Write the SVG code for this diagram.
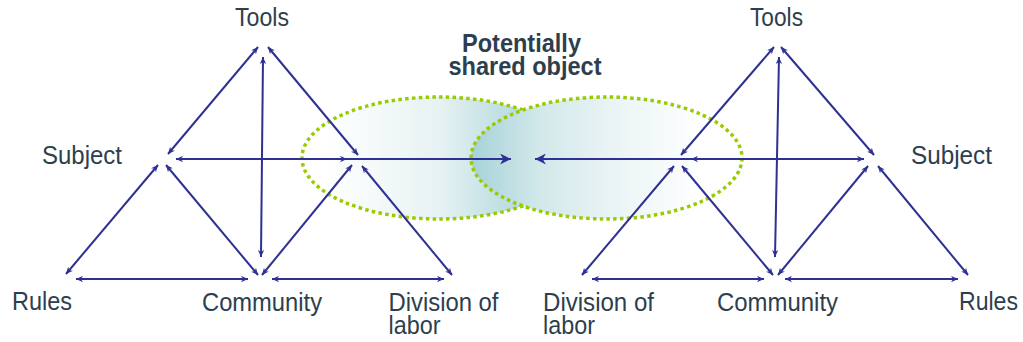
<svg xmlns="http://www.w3.org/2000/svg" width="1023" height="342" viewBox="0 0 1023 342">
<style>
.lbl{font-family:"Liberation Sans",Arial,sans-serif;font-size:25px;fill:#2d3f4e;}
.ttl{font-family:"Liberation Sans",Arial,sans-serif;font-size:25px;font-weight:bold;fill:#2d3f4e;}
.ln{stroke:#2e3092;stroke-width:2;fill:none;}
.dbl{marker-start:url(#sm);marker-end:url(#sm);}
.obj{marker-end:url(#big);}
.ell{stroke:#99cc00;stroke-width:3.5;stroke-dasharray:3.5 3.3;}
</style>
<defs>
<marker id="sm" viewBox="0 0 10 10" refX="10" refY="5" markerWidth="7" markerHeight="7" markerUnits="userSpaceOnUse" orient="auto-start-reverse">
<path d="M0,0.5 L10,5 L0,9.5 L3,5 z" fill="#2e3092"/>
</marker>
<marker id="big" viewBox="0 0 10 10" refX="10" refY="5" markerWidth="11" markerHeight="11" markerUnits="userSpaceOnUse" orient="auto-start-reverse">
<path d="M0,0 L10,5 L0,10 L3,5 z" fill="#2e3092"/>
</marker>
<linearGradient id="gL" x1="0" y1="0" x2="1" y2="0">
<stop offset="0.08" stop-color="#ffffff"/>
<stop offset="0.5" stop-color="#e7f2f3"/>
<stop offset="0.72" stop-color="#c2e0e3"/>
<stop offset="1" stop-color="#a3d0d6"/>
</linearGradient>
<linearGradient id="gR" x1="0" y1="0" x2="1" y2="0">
<stop offset="0" stop-color="#a6d2d8"/>
<stop offset="0.25" stop-color="#d2e8ea"/>
<stop offset="0.55" stop-color="#ecf5f6"/>
<stop offset="0.85" stop-color="#ffffff"/>
</linearGradient>
</defs>

<g id="shared-object">
<ellipse class="ell" cx="438.5" cy="158" rx="136.5" ry="61" fill="url(#gL)"/>
<ellipse class="ell" cx="606.5" cy="158" rx="135.5" ry="61" fill="url(#gR)"/>
<text class="ttl" x="521.5" y="52" text-anchor="middle" textLength="119" lengthAdjust="spacingAndGlyphs">Potentially</text>
<text class="ttl" x="525" y="74.5" text-anchor="middle" textLength="153" lengthAdjust="spacingAndGlyphs">shared object</text>
</g>

<g id="connectors">
<line class="ln dbl" x1="258" y1="47" x2="168" y2="154"/>
<line class="ln dbl" x1="268" y1="47" x2="358" y2="155"/>
<line class="ln dbl" x1="263" y1="57" x2="261" y2="257"/>
<line class="ln dbl" x1="176" y1="159" x2="347" y2="159"/>
<line class="ln obj" x1="176" y1="159" x2="511" y2="159"/>
<line class="ln dbl" x1="158" y1="165" x2="66" y2="274"/>
<line class="ln dbl" x1="166" y1="165" x2="258" y2="275"/>
<line class="ln dbl" x1="262" y1="275" x2="352" y2="165"/>
<line class="ln dbl" x1="362" y1="166" x2="452" y2="275"/>
<line class="ln dbl" x1="76" y1="279" x2="248" y2="279"/>
<line class="ln dbl" x1="272" y1="279" x2="444" y2="279"/>

<line class="ln dbl" x1="774" y1="47" x2="681" y2="155"/>
<line class="ln dbl" x1="781" y1="47" x2="874" y2="155"/>
<line class="ln dbl" x1="779" y1="57" x2="775" y2="257"/>
<line class="ln dbl" x1="691" y1="159" x2="864" y2="159"/>
<line class="ln obj" x1="864" y1="159" x2="535" y2="159"/>
<line class="ln dbl" x1="674" y1="166" x2="582" y2="275"/>
<line class="ln dbl" x1="682" y1="166" x2="773" y2="275"/>
<line class="ln dbl" x1="778" y1="275" x2="868" y2="166"/>
<line class="ln dbl" x1="878" y1="166" x2="968" y2="275"/>
<line class="ln dbl" x1="592" y1="279" x2="764" y2="279"/>
<line class="ln dbl" x1="785" y1="279" x2="958" y2="279"/>
</g>

<g id="left-tools"><text class="lbl" x="235" y="26" textLength="54" lengthAdjust="spacingAndGlyphs">Tools</text></g>
<g id="left-subject"><text class="lbl" x="42" y="163.5" textLength="80" lengthAdjust="spacingAndGlyphs">Subject</text></g>
<g id="left-rules"><text class="lbl" x="12" y="310" textLength="60" lengthAdjust="spacingAndGlyphs">Rules</text></g>
<g id="left-community"><text class="lbl" x="202" y="310.5" textLength="120" lengthAdjust="spacingAndGlyphs">Community</text></g>
<g id="left-division"><text class="lbl" x="388.5" y="310.5" textLength="110" lengthAdjust="spacingAndGlyphs">Division of</text><text class="lbl" x="388.5" y="334" textLength="52" lengthAdjust="spacingAndGlyphs">labor</text></g>

<g id="right-tools"><text class="lbl" x="750" y="26" textLength="53" lengthAdjust="spacingAndGlyphs">Tools</text></g>
<g id="right-subject"><text class="lbl" x="911" y="163.5" textLength="81" lengthAdjust="spacingAndGlyphs">Subject</text></g>
<g id="right-rules"><text class="lbl" x="959" y="310" textLength="59" lengthAdjust="spacingAndGlyphs">Rules</text></g>
<g id="right-community"><text class="lbl" x="717" y="310.5" textLength="121" lengthAdjust="spacingAndGlyphs">Community</text></g>
<g id="right-division"><text class="lbl" x="543" y="310.5" textLength="111" lengthAdjust="spacingAndGlyphs">Division of</text><text class="lbl" x="543" y="334" textLength="52" lengthAdjust="spacingAndGlyphs">labor</text></g>
</svg>
